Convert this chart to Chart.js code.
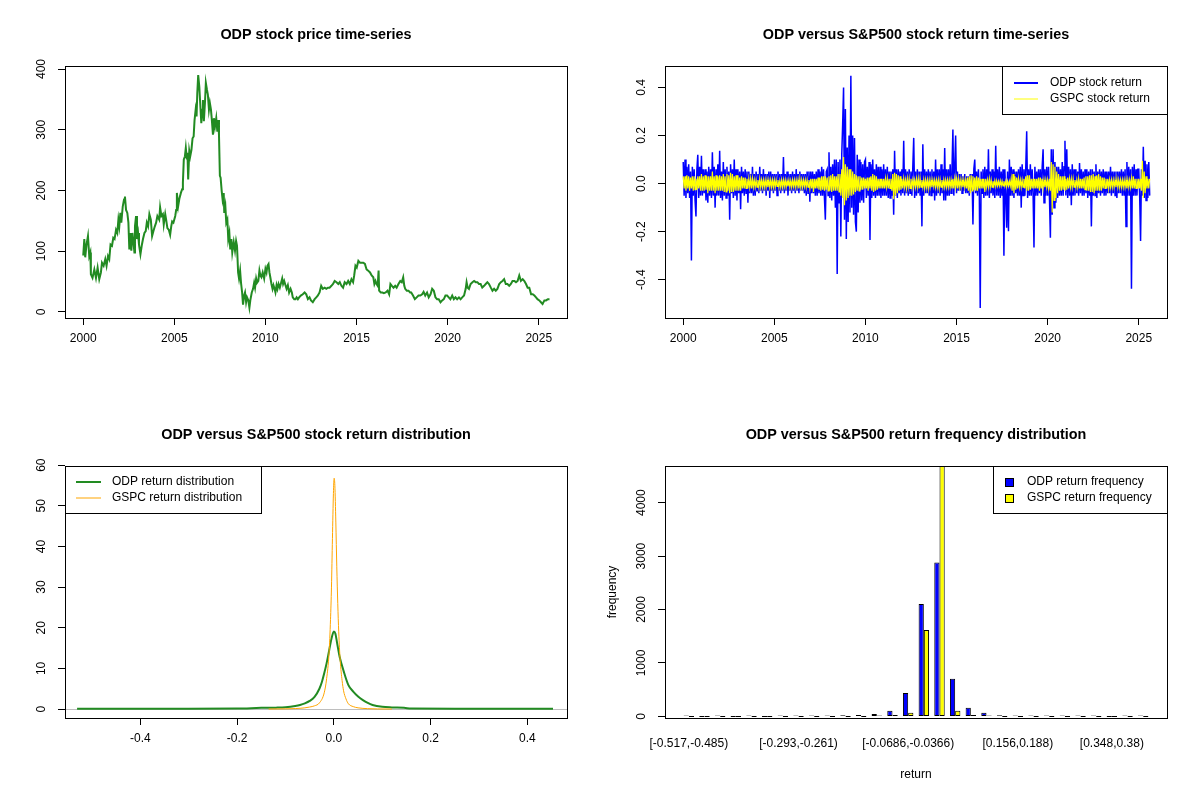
<!DOCTYPE html>
<html lang="en">
<head>
<meta charset="UTF-8">
<title>ODP versus S&amp;P500</title>
<script src="https://cdn.jsdelivr.net/npm/chart.js"></script>
<style>
  body { margin: 0; background: #fff; width: 1200px; height: 800px; overflow: hidden; }
  .panel { position: absolute; width: 600px; height: 400px; }
</style>
</head>
<body>
<div class="panel" style="left:0;top:0"><canvas id="pricePlot" width="600" height="400"></canvas></div>
<div class="panel" style="left:600px;top:0"><canvas id="returnPlot" width="600" height="400"></canvas></div>
<div class="panel" style="left:0;top:400px"><canvas id="densityPlot" width="600" height="400"></canvas></div>
<div class="panel" style="left:600px;top:400px"><canvas id="freqPlot" width="600" height="400"></canvas></div>

<script>
const FONT = '"Liberation Sans", Arial, sans-serif';

// ---- ODP price ----
const priceYears = [
  2000.00, 2000.06, 2000.11, 2000.18, 2000.26, 2000.33, 2000.39, 2000.42, 2000.51, 2000.61, 2000.70, 2000.79, 2000.88, 2000.97,
  2001.03, 2001.12, 2001.21, 2001.28, 2001.36, 2001.43, 2001.50, 2001.58, 2001.65, 2001.72, 2001.80, 2001.87, 2001.93, 2001.98,
  2002.04, 2002.09, 2002.17, 2002.24, 2002.29, 2002.35, 2002.42, 2002.48, 2002.53, 2002.59, 2002.64, 2002.70, 2002.75, 2002.81, 2002.84, 2002.90, 2002.95,
  2003.01, 2003.06, 2003.14, 2003.21, 2003.28, 2003.36, 2003.43, 2003.49, 2003.56, 2003.63, 2003.71, 2003.78, 2003.85, 2003.93,
  2004.00, 2004.07, 2004.17, 2004.22, 2004.29, 2004.37, 2004.42, 2004.50, 2004.55, 2004.62, 2004.70, 2004.77, 2004.83, 2004.88, 2004.95,
  2005.05, 2005.10, 2005.14, 2005.21, 2005.28, 2005.36, 2005.43, 2005.47, 2005.52, 2005.58, 2005.63, 2005.69, 2005.72, 2005.76, 2005.82, 2005.87, 2005.94,
  2006.00, 2006.06, 2006.11, 2006.17, 2006.22, 2006.26, 2006.31, 2006.37, 2006.42, 2006.48, 2006.53, 2006.57, 2006.62, 2006.68, 2006.73, 2006.79, 2006.84, 2006.90, 2006.95,
  2007.01, 2007.06, 2007.12, 2007.17, 2007.23, 2007.30, 2007.36, 2007.41, 2007.45, 2007.50, 2007.54, 2007.60, 2007.65, 2007.71, 2007.74, 2007.80, 2007.85, 2007.91, 2007.96,
  2008.02, 2008.07, 2008.13, 2008.18, 2008.26, 2008.33, 2008.39, 2008.44, 2008.50, 2008.55, 2008.61, 2008.66, 2008.72, 2008.77, 2008.83, 2008.88, 2008.94, 2008.99,
  2009.06, 2009.12, 2009.17, 2009.25, 2009.32, 2009.38, 2009.43, 2009.49, 2009.54, 2009.61, 2009.67, 2009.72, 2009.78, 2009.85, 2009.93,
  2010.00, 2010.06, 2010.11, 2010.17, 2010.22, 2010.28, 2010.33, 2010.39, 2010.44, 2010.50, 2010.55, 2010.61, 2010.66, 2010.72, 2010.79, 2010.86, 2010.92, 2010.97,
  2011.03, 2011.08, 2011.16, 2011.23, 2011.30, 2011.38, 2011.45, 2011.50, 2011.58, 2011.65, 2011.71, 2011.78, 2011.85, 2011.94,
  2012.05, 2012.15, 2012.24, 2012.33, 2012.42, 2012.50, 2012.60, 2012.70, 2012.79, 2012.88, 2012.97,
  2013.06, 2013.15, 2013.25, 2013.34, 2013.43, 2013.52, 2013.62, 2013.71, 2013.80, 2013.90,
  2014.00, 2014.08, 2014.17, 2014.26, 2014.35, 2014.45, 2014.54, 2014.63, 2014.72, 2014.81, 2014.87, 2014.94,
  2015.01, 2015.10, 2015.19, 2015.28, 2015.37, 2015.46, 2015.55, 2015.64, 2015.74, 2015.83, 2015.92, 2015.98,
  2016.04, 2016.10, 2016.16, 2016.21, 2016.24, 2016.33, 2016.42, 2016.50, 2016.60, 2016.70, 2016.79, 2016.86, 2016.94,
  2017.03, 2017.12, 2017.20, 2017.30, 2017.40, 2017.48, 2017.56, 2017.62, 2017.67, 2017.76, 2017.85, 2017.94,
  2018.00, 2018.10, 2018.20, 2018.30, 2018.40, 2018.50, 2018.60, 2018.68, 2018.77, 2018.87, 2018.96,
  2019.06, 2019.15, 2019.24, 2019.33, 2019.42, 2019.51, 2019.61, 2019.70, 2019.79, 2019.88, 2019.97,
  2020.06, 2020.15, 2020.25, 2020.34, 2020.43, 2020.52, 2020.62, 2020.71, 2020.80, 2020.90, 2020.99,
  2021.04, 2021.10, 2021.17, 2021.26, 2021.36, 2021.45, 2021.54, 2021.63, 2021.72, 2021.81, 2021.90,
  2022.00, 2022.09, 2022.18, 2022.27, 2022.37, 2022.46, 2022.55, 2022.64, 2022.73, 2022.83, 2022.92,
  2023.01, 2023.10, 2023.19, 2023.28, 2023.38, 2023.47, 2023.56, 2023.66, 2023.75, 2023.84, 2023.93,
  2024.02, 2024.12, 2024.21, 2024.30, 2024.39, 2024.48, 2024.58, 2024.67, 2024.76, 2024.85, 2024.93,
  2025.03, 2025.12, 2025.21, 2025.31, 2025.40, 2025.50, 2025.59
];
const priceValues = [
  93, 120, 90, 111, 125, 92, 98, 62, 56, 70, 56, 73, 54, 65,
  81, 76, 87, 76, 92, 87, 111, 109, 122, 120, 135, 130, 152, 141,
  163, 147, 174, 185, 190, 168, 163, 147, 103, 130, 101, 130, 117, 98, 141, 158, 120,
  130, 111, 95, 109, 120, 130, 133, 147, 141, 161, 152, 125, 133, 141,
  147, 158, 152, 172, 158, 161, 144, 161, 152, 138, 135, 127, 141, 149, 147,
  158, 168, 196, 174, 187, 196, 202, 213, 251, 256, 270, 251, 262, 218, 265, 256, 267,
  286, 289, 316, 333, 322, 360, 390, 371, 344, 311, 333, 349, 314, 344, 377, 366, 358, 333, 344,
  333, 316, 292, 319, 305, 319, 297, 316, 292, 224, 221, 199, 185, 196, 163, 174, 147, 152, 120,
  130, 103, 120, 98, 115, 101, 117, 109, 65, 55, 68, 48, 32, 12, 27, 32, 16, 24,
  19, 7, 19, 32, 38, 48, 40, 55, 48, 51, 68, 60, 57, 65, 55,
  71, 65, 76, 79, 65, 55, 46, 38, 44, 38, 32, 44, 38, 46, 40, 48, 55, 46,
  51, 46, 38, 44, 32, 38, 32, 24, 21, 21, 24, 21, 24, 27,
  29, 32, 29, 21, 24, 19, 16, 21, 24, 27, 32,
  43, 38, 40, 38, 40, 40, 43, 46, 51, 49,
  46, 49, 43, 40, 49, 46, 51, 46, 54, 49, 60, 76,
  73, 84, 81, 81, 81, 79, 70, 68, 65, 60, 57, 46,
  51, 46, 43, 68, 35, 32, 32, 31, 32, 35, 29, 46, 43,
  40, 43, 40, 46, 51, 49, 57, 43, 38, 35, 35, 32,
  32, 27, 21, 24, 27, 27, 29, 33, 27, 32, 24,
  29, 38, 35, 24, 21, 21, 16, 19, 21, 27, 27,
  24, 21, 27, 21, 24, 21, 24, 21, 24, 27, 38,
  49, 40, 38, 46, 49, 51, 49, 49, 46, 46, 40,
  43, 46, 49, 46, 40, 35, 38, 35, 38, 46, 49,
  51, 54, 46, 46, 43, 46, 51, 51, 49, 51, 60,
  51, 54, 51, 46, 40, 40, 29, 29, 27, 24, 21,
  19, 16, 13, 19, 19, 21, 21
];

const odpReturn = [
  0.09, -0.05, 0.10, -0.06, 0.07, -0.04, 0.08, -0.06, 0.05, -0.32, 0.07, -0.05, 0.06, -0.07, -0.137, 0.06, 0.12, -0.06, 0.07, -0.05,
  0.116, -0.05, 0.06, -0.04, 0.06, -0.07, 0.05, -0.08, 0.07, -0.05, 0.06, -0.06, 0.13, -0.05, 0.07, -0.10, 0.06, -0.05, 0.08, -0.05,
  0.137, -0.06, 0.05, -0.07, 0.09, -0.05, 0.06, -0.06, 0.07, -0.05, 0.05, -0.15, 0.08, -0.04, 0.06, -0.06, 0.10, -0.05, 0.06, -0.07,
  0.06, -0.04, 0.05, -0.107, 0.07, -0.04, 0.05, -0.05, 0.06, -0.04, 0.05, -0.08, 0.05, -0.04, 0.04, -0.04, 0.07, -0.05, 0.04, -0.05,
  0.05, -0.03, 0.04, -0.04, 0.07, -0.03, 0.04, -0.04, 0.06, -0.03, 0.04, -0.05, 0.04, -0.03, 0.05, -0.06, 0.05, -0.03, 0.04, -0.04,
  0.04, -0.03, 0.04, -0.05, 0.05, -0.03, 0.04, -0.04, 0.04, -0.03, 0.11, -0.04, 0.04, -0.03, 0.05, -0.05, 0.04, -0.03, 0.04, -0.04,
  0.05, -0.03, 0.04, -0.04, 0.06, -0.03, 0.04, -0.04, 0.05, -0.03, 0.04, -0.03, 0.04, -0.04, 0.04, -0.05, 0.05, -0.04, 0.05, -0.075,
  0.05, -0.04, 0.05, -0.04, 0.04, -0.05, 0.05, -0.05, 0.06, -0.04, 0.05, -0.05, 0.07, -0.05, 0.06, -0.06, -0.15, 0.05, 0.06, -0.05,
  0.13, -0.06, 0.07, -0.07, 0.08, -0.05, 0.10, -0.10, 0.10, -0.376, 0.09, -0.08, 0.10, -0.22, 0.12, 0.246, 0.40, -0.15, 0.31, -0.23,
  0.15, -0.16, 0.20, -0.12, 0.448, -0.10, 0.20, -0.13, 0.19, -0.16, -0.20, 0.12, -0.12, 0.10, -0.08, 0.09, -0.07, 0.08, -0.08, 0.09,
  0.10, -0.06, 0.07, -0.05, 0.09, -0.235, 0.08, -0.06, 0.10, -0.05, 0.06, -0.06, 0.08, -0.05, 0.07, -0.05, 0.07, -0.06, 0.06, -0.05,
  0.08, -0.05, 0.06, -0.05, 0.07, -0.06, 0.05, -0.06, 0.05, -0.05, 0.06, -0.13, 0.137, -0.05, 0.06, -0.06, 0.06, -0.04, 0.05, -0.05,
  0.06, -0.04, 0.178, -0.05, 0.06, -0.04, 0.05, -0.05, 0.06, -0.04, 0.05, -0.05, 0.07, 0.19, -0.06, 0.05, -0.05, 0.06, -0.04, 0.05,
  -0.05, 0.05, -0.178, 0.164, -0.05, 0.06, -0.04, 0.05, -0.04, 0.06, -0.05, 0.05, -0.05, 0.06, -0.04, 0.05, -0.07, 0.10, -0.05, 0.06,
  -0.04, 0.06, -0.05, 0.08, -0.04, 0.06, -0.07, 0.148, -0.07, 0.06, -0.05, 0.06, -0.05, 0.08, -0.04, 0.06, 0.225, -0.05, 0.07, 0.20,
  -0.04, 0.05, -0.03, 0.04, -0.03, 0.04, -0.04, 0.03, -0.03, 0.04, -0.04, 0.03, -0.04, 0.03, -0.05, 0.04, -0.03, 0.04, -0.17, 0.06,
  0.10, -0.04, 0.05, -0.05, 0.06, -0.04, -0.517, 0.05, -0.04, 0.06, -0.06, 0.07, -0.05, 0.06, -0.05, 0.143, -0.06, 0.05, -0.04, 0.06,
  -0.05, 0.05, -0.06, 0.157, -0.05, 0.06, -0.05, 0.07, -0.06, 0.05, -0.05, 0.06, -0.30, 0.06, -0.05, -0.184, 0.05, -0.198, 0.10, -0.05,
  0.07, -0.05, 0.06, -0.06, 0.05, -0.04, 0.05, -0.05, 0.06, -0.05, 0.07, -0.10, 0.08, -0.05, 0.06, -0.05, 0.07, 0.218, -0.06, 0.06,
  -0.05, 0.08, -0.05, 0.06, -0.04, -0.266, 0.07, -0.05, 0.05, -0.05, 0.06, -0.04, 0.06, -0.05, 0.07, 0.143, -0.08, 0.06, -0.05, 0.07,
  -0.05, 0.07, -0.06, -0.225, 0.143, -0.13, 0.143, -0.10, 0.09, -0.08, 0.07, -0.06, 0.07, -0.05, 0.06, -0.05, 0.09, -0.05, 0.07, 0.178,
  -0.05, 0.143, -0.06, 0.07, -0.05, 0.06, -0.09, 0.08, -0.05, 0.06, -0.05, 0.06, -0.04, 0.05, -0.05, 0.085, -0.04, 0.06, -0.05, 0.05,
  -0.05, 0.06, -0.04, 0.06, -0.06, 0.05, -0.05, 0.06, -0.178, 0.06, -0.05, 0.05, -0.05, 0.08, -0.06, 0.05, -0.04, 0.06, -0.05, 0.05,
  -0.04, 0.06, -0.05, 0.05, -0.05, 0.05, -0.04, 0.05, -0.04, 0.07, -0.05, 0.05, -0.04, 0.05, -0.05, 0.05, -0.06, 0.05, -0.04, 0.05,
  -0.04, 0.06, -0.05, 0.05, -0.05, 0.06, -0.178, 0.09, -0.05, 0.07, -0.05, 0.06, -0.437, 0.07, -0.05, 0.08, -0.05, 0.06, -0.05, 0.06,
  0.06, -0.05, -0.239, 0.06, -0.05, 0.153, -0.06, 0.095, -0.07, 0.08, -0.06, 0.09, -0.05
];
const gspcReturn = [
  0.03, -0.02, 0.03, -0.03, 0.035, -0.02, 0.03, -0.03, 0.025, -0.02, 0.03, -0.03, 0.03, -0.025, 0.02, -0.025, 0.03, -0.02, 0.03, -0.03,
  0.04, -0.03, 0.03, -0.03, 0.035, -0.025, 0.03, -0.04, 0.03, -0.03, 0.03, -0.03, 0.05, -0.03, 0.03, -0.04, 0.035, -0.03, 0.03, -0.03,
  0.035, -0.03, 0.03, -0.03, 0.04, -0.035, 0.03, -0.035, 0.04, -0.03, 0.035, -0.04, 0.045, -0.035, 0.04, -0.035, 0.03, -0.03, 0.035, -0.03,
  0.035, -0.03, 0.025, -0.03, 0.03, -0.02, 0.025, -0.02, 0.025, -0.02, 0.02, -0.02, 0.02, -0.015, 0.02, -0.02, 0.02, -0.015, 0.015, -0.015,
  0.015, -0.015, 0.015, -0.015, 0.02, -0.015, 0.015, -0.015, 0.015, -0.015, 0.015, -0.015, 0.015, -0.015, 0.015, -0.015, 0.015, -0.015, 0.015, -0.015,
  0.015, -0.015, 0.015, -0.012, 0.015, -0.015, 0.012, -0.015, 0.015, -0.015, 0.015, -0.012, 0.015, -0.015, 0.012, -0.012, 0.015, -0.015, 0.012, -0.015,
  0.015, -0.012, 0.015, -0.015, 0.015, -0.012, 0.015, -0.02, 0.02, -0.015, 0.015, -0.015, 0.015, -0.012, 0.015, -0.015, 0.015, -0.015, 0.015, -0.02,
  0.02, -0.02, 0.02, -0.035, 0.02, -0.02, 0.02, -0.02, 0.025, -0.025, 0.025, -0.03, 0.03, -0.025, 0.03, -0.03, 0.03, -0.025, 0.025, -0.03,
  0.03, -0.03, 0.035, -0.035, 0.04, -0.03, 0.03, -0.03, 0.03, -0.03, 0.04, -0.035, 0.04, -0.05, 0.06, -0.06, 0.11, -0.09, 0.08, -0.07,
  0.07, -0.06, 0.06, -0.05, 0.06, -0.05, 0.05, -0.045, 0.04, -0.035, 0.035, -0.03, 0.03, -0.03, 0.03, -0.025, 0.025, -0.025, 0.025, -0.02,
  0.02, -0.02, 0.025, -0.03, 0.025, -0.02, 0.03, -0.03, 0.04, -0.035, 0.035, -0.03, 0.03, -0.025, 0.02, -0.02, 0.02, -0.02, 0.02, -0.02,
  0.02, -0.02, 0.02, -0.015, 0.02, -0.02, 0.02, -0.02, 0.02, -0.03, 0.04, -0.065, 0.045, -0.05, 0.04, -0.04, 0.035, -0.03, 0.03, -0.025,
  0.02, -0.02, 0.02, -0.015, 0.015, -0.02, 0.02, -0.015, 0.02, -0.02, 0.02, -0.015, 0.015, -0.015, 0.015, -0.015, 0.02, -0.015, 0.02, -0.02,
  0.02, -0.015, 0.015, -0.015, 0.015, -0.02, 0.015, -0.015, 0.015, -0.02, 0.015, -0.015, 0.015, -0.015, 0.015, -0.012, 0.015, -0.015, 0.015, -0.015,
  0.015, -0.02, 0.015, -0.015, 0.015, -0.015, 0.015, -0.015, 0.015, -0.015, 0.015, -0.015, 0.015, -0.015, 0.015, -0.02, 0.02, -0.02, 0.02, -0.015,
  0.02, -0.02, 0.02, -0.015, 0.015, -0.015, 0.015, -0.015, 0.015, -0.015, 0.015, -0.02, 0.025, -0.03, 0.03, -0.04, 0.035, -0.03, 0.03, -0.025,
  0.025, -0.03, 0.03, -0.03, 0.025, -0.02, 0.02, -0.02, 0.02, -0.02, 0.02, -0.035, 0.02, -0.015, 0.015, -0.015, 0.02, -0.015, 0.015, -0.015,
  0.01, -0.01, 0.012, -0.012, 0.012, -0.01, 0.01, -0.01, 0.012, -0.01, 0.01, -0.01, 0.01, -0.01, 0.01, -0.012, 0.01, -0.01, 0.01, -0.01,
  0.02, -0.03, 0.04, -0.04, 0.03, -0.025, 0.025, -0.02, 0.02, -0.015, 0.015, -0.015, 0.015, -0.015, 0.02, -0.02, 0.03, -0.03, 0.035, -0.03,
  0.035, -0.025, 0.02, -0.02, 0.02, -0.02, 0.02, -0.02, 0.02, -0.02, 0.025, -0.03, 0.025, -0.02, 0.02, -0.02, 0.015, -0.015, 0.015, -0.015,
  0.015, -0.02, 0.02, -0.03, 0.09, -0.12, 0.08, -0.07, 0.07, -0.06, 0.05, -0.04, 0.04, -0.03, 0.03, -0.03, 0.03, -0.025, 0.03, -0.03,
  0.02, -0.025, 0.025, -0.02, 0.02, -0.015, 0.02, -0.015, 0.02, -0.015, 0.015, -0.015, 0.015, -0.015, 0.02, -0.02, 0.02, -0.02, 0.02, -0.02,
  0.025, -0.025, 0.03, -0.03, 0.03, -0.03, 0.035, -0.035, 0.035, -0.035, 0.04, -0.04, 0.03, -0.03, 0.035, -0.03, 0.04, -0.03, 0.03, -0.03,
  0.025, -0.02, 0.025, -0.02, 0.02, -0.02, 0.02, -0.02, 0.015, -0.015, 0.015, -0.015, 0.015, -0.015, 0.015, -0.015, 0.02, -0.015, 0.015, -0.015,
  0.015, -0.015, 0.015, -0.015, 0.015, -0.015, 0.015, -0.02, 0.015, -0.015, 0.015, -0.015, 0.02, -0.02, 0.03, -0.02, 0.02, -0.02, 0.02, -0.02,
  0.02, -0.02, 0.02, -0.03, 0.095, -0.06, 0.05, -0.04, 0.03, -0.02, 0.02, -0.02, 0.02
];
const returnStart = 2000;
const returnStep = 0.05;

// ---- kernel density of returns ----
const odpDensX = [-0.531, -0.40, -0.30, -0.20, -0.15, -0.12, -0.10, -0.08, -0.07, -0.06, -0.05, -0.04, -0.03, -0.025, -0.02, -0.015, -0.01, -0.005, 0.0, 0.003, 0.007, 0.012, 0.02, 0.03, 0.04, 0.05, 0.06, 0.07, 0.08, 0.10, 0.12, 0.145, 0.16, 0.25, 0.35, 0.453];
const odpDensY = [0.1, 0.1, 0.1, 0.12, 0.3, 0.35, 0.45, 0.75, 1.0, 1.4, 2.0, 3.0, 5.0, 6.6, 8.8, 11.3, 14.3, 17.3, 19.1, 18.6, 16.0, 12.8, 9.4, 5.9, 4.3, 3.1, 2.2, 1.5, 1.0, 0.55, 0.4, 0.3, 0.12, 0.1, 0.1, 0.1];
const gspcDensX = [-0.135, -0.10, -0.08, -0.06, -0.05, -0.04, -0.03, -0.02, -0.015, -0.01, -0.007, -0.005, -0.003, -0.001, 0.0005, 0.002, 0.004, 0.006, 0.008, 0.01, 0.013, 0.017, 0.02, 0.025, 0.03, 0.04, 0.05, 0.07, 0.09, 0.12];
const gspcDensY = [0.01, 0.05, 0.12, 0.3, 0.5, 0.8, 1.5, 4.0, 7.5, 13.8, 22, 30, 42, 53, 56.8, 55, 46, 35, 26, 19, 12, 7, 4.5, 2.5, 1.3, 0.6, 0.3, 0.1, 0.03, 0.01];

// ---- return frequency per bin ----
const freqBins = [
  '[-0.517,-0.485)', '[-0.485,-0.453)', '[-0.453,-0.421)', '[-0.421,-0.389)', '[-0.389,-0.357)',
  '[-0.357,-0.325)', '[-0.325,-0.293)', '[-0.293,-0.261)', '[-0.261,-0.229)', '[-0.229,-0.197)',
  '[-0.197,-0.165)', '[-0.165,-0.133)', '[-0.133,-0.101)', '[-0.101,-0.0686)', '[-0.0686,-0.0366)',
  '[-0.0366,-0.0045)', '[-0.0045,0.0276)', '[0.0276,0.0596)', '[0.0596,0.0917)', '[0.0917,0.124)',
  '[0.124,0.156)', '[0.156,0.188)', '[0.188,0.22)', '[0.22,0.252)', '[0.252,0.284)',
  '[0.284,0.316)', '[0.316,0.348)', '[0.348,0.38)', '[0.38,0.412)', '[0.412,0.444)'
];
const shownBins = [0, 7, 14, 21, 27];
const odpFreq  = [1, 0, 1, 0, 1, 0, 2, 3, 5, 9, 20, 25, 45, 106, 440, 2104, 2882, 703, 164, 68, 22, 15, 10, 3, 2, 1, 1, 0, 1, 1];
const gspcFreq = [0, 0, 0, 0, 0, 0, 0, 0, 0, 0, 0, 0, 3, 25, 68, 1617, 4686, 106, 25, 2, 0, 0, 0, 0, 0, 0, 0, 0, 0, 0];

// tick labels
const yearTicks = [2000, 2005, 2010, 2015, 2020, 2025];
const priceTicks = [0, 100, 200, 300, 400];
const returnTicks = [-0.4, -0.2, 0, 0.2, 0.4];
const returnTickLabels = ['-0.4', '-0.2', '0.0', '0.2', '0.4'];
const densTicks = [0, 10, 20, 30, 40, 50, 60];
const freqTicks = [0, 1000, 2000, 3000, 4000];

// R-like frame: box, title, rotated y labels, legend
const rStyle = {
  id: 'rstyle',
  beforeDatasetsDraw(chart, args, opts) {
    if (!opts.zeroLine) return;
    const { ctx, chartArea: a, scales } = chart;
    const y = Math.round(scales.y.getPixelForValue(0)) + 0.5;
    ctx.save();
    ctx.strokeStyle = '#BEBEBE';
    ctx.lineWidth = 1;
    ctx.beginPath();
    ctx.moveTo(a.left, y);
    ctx.lineTo(a.right, y);
    ctx.stroke();
    ctx.restore();
  },
  afterDraw(chart, args, opts) {
    const { ctx, chartArea: a, scales } = chart;
    ctx.save();
    ctx.strokeStyle = '#000';
    ctx.lineWidth = 1;
    ctx.strokeRect(Math.round(a.left) + 0.5, Math.round(a.top) + 0.5,
      Math.round(a.right - a.left), Math.round(a.bottom - a.top));

    ctx.fillStyle = '#000';
    ctx.textAlign = 'center';
    ctx.textBaseline = 'middle';
    ctx.font = 'bold 14.4px ' + FONT;
    ctx.fillText(opts.title, (a.left + a.right) / 2, 35);

    ctx.font = '12px ' + FONT;
    const ys = scales.y;
    ys.ticks.forEach((t, i) => {
      ctx.save();
      ctx.translate(a.left - 23, ys.getPixelForValue(t.value));
      ctx.rotate(-Math.PI / 2);
      ctx.fillText(opts.yLabels[i], 0, 0);
      ctx.restore();
    });

    const lg = opts.legend;
    if (lg) {
      ctx.strokeRect(lg.box[0] + 0.5, lg.box[1] + 0.5, lg.box[2], lg.box[3]);
      ctx.textAlign = 'left';
      lg.rows.forEach(r => {
        if (r.kind === 'line') {
          ctx.strokeStyle = r.color;
          ctx.lineWidth = r.lw;
          ctx.beginPath();
          ctx.moveTo(lg.sym[0], r.y);
          ctx.lineTo(lg.sym[1], r.y);
          ctx.stroke();
        } else {
          ctx.fillStyle = r.color;
          ctx.fillRect(lg.sym[0], r.y - 4, lg.sym[1] - lg.sym[0], 9);
          ctx.strokeStyle = '#000';
          ctx.lineWidth = 1;
          ctx.strokeRect(lg.sym[0] + 0.5, r.y - 3.5, lg.sym[1] - lg.sym[0] - 1, 8);
        }
        ctx.fillStyle = '#000';
        ctx.fillText(r.text, lg.textX, r.y);
      });
    }
    ctx.restore();
  }
};
Chart.register(rStyle);

function makeScales(o) {
  return {
    x: {
      type: 'linear', min: o.xMin, max: o.xMax, offset: false,
      afterBuildTicks: s => { s.ticks = o.xTicks.map(v => ({ value: v })); },
      afterFit: s => { s.height = 82; },
      border: { display: false },
      grid: { display: o.xMarks, offset: false, drawOnChartArea: false, drawTicks: o.xMarks, tickLength: 7, color: '#000' },
      ticks: {
        callback: (v, i) => o.xLabels[i], color: '#000', font: { family: FONT, size: 12 },
        maxRotation: 0, minRotation: 0, autoSkip: false, padding: o.xPad
      },
      title: o.xTitle ? { display: true, text: o.xTitle, color: '#000', font: { family: FONT, size: 12 }, padding: { top: 0, bottom: 18 } } : { display: false }
    },
    y: {
      type: 'linear', min: o.yMin, max: o.yMax,
      afterBuildTicks: s => { s.ticks = o.yTicks.map(v => ({ value: v })); },
      afterFit: s => { s.width = 65; },
      border: { display: false },
      grid: { drawOnChartArea: false, drawTicks: true, tickLength: 7, color: '#000' },
      ticks: { display: false },
      title: o.yTitle ? { display: true, text: o.yTitle, color: '#000', font: { family: FONT, size: 12 }, padding: { top: 5, bottom: 0 } } : { display: false }
    }
  };
}

function baseOptions(scales, rstyle) {
  return {
    responsive: false,
    animation: false,
    events: [],
    layout: { padding: { top: 66, right: 33, left: 0, bottom: 0 } },
    scales: scales,
    plugins: { legend: { display: false }, tooltip: { enabled: false }, rstyle: rstyle }
  };
}

// 1. price
new Chart(document.getElementById('pricePlot'), {
  type: 'line',
  data: {
    datasets: [{
      data: priceYears.map((t, i) => ({ x: t, y: priceValues[i] })),
      borderColor: '#228B22', borderWidth: 2, pointRadius: 0, tension: 0
    }]
  },
  options: baseOptions(
    makeScales({ xMin: 1999.0, xMax: 2026.55, xTicks: yearTicks, xLabels: yearTicks.map(String), xMarks: true, xPad: 6,
                 yMin: -10, yMax: 405, yTicks: priceTicks }),
    { title: 'ODP stock price time-series', yLabels: priceTicks.map(String) })
});

// 2. returns
new Chart(document.getElementById('returnPlot'), {
  type: 'line',
  data: {
    datasets: [
      { label: 'ODP stock return', order: 2,
        data: odpReturn.map((v, i) => ({ x: returnStart + i * returnStep, y: v })),
        borderColor: '#0000FF', borderWidth: 1.5, pointRadius: 0, tension: 0 },
      { label: 'GSPC stock return', order: 1,
        data: gspcReturn.map((v, i) => ({ x: returnStart + i * returnStep, y: v })),
        borderColor: '#FFFF00', borderWidth: 1.2, pointRadius: 0, tension: 0 }
    ]
  },
  options: baseOptions(
    makeScales({ xMin: 1999.0, xMax: 2026.55, xTicks: yearTicks, xLabels: yearTicks.map(String), xMarks: true, xPad: 6,
                 yMin: -0.559, yMax: 0.489, yTicks: returnTicks }),
    { title: 'ODP versus S&P500 stock return time-series', yLabels: returnTickLabels,
      legend: { box: [402, 66, 165, 48], sym: [414, 438], textX: 450,
        rows: [ { y: 83, kind: 'line', color: '#0000FF', lw: 2, text: 'ODP stock return' },
                { y: 99, kind: 'line', color: '#FFFF00', lw: 1, text: 'GSPC stock return' } ] } })
});

// 3. density
new Chart(document.getElementById('densityPlot'), {
  type: 'line',
  data: {
    datasets: [
      { label: 'ODP return distribution', order: 2,
        data: odpDensX.map((x, i) => ({ x: x, y: odpDensY[i] })),
        borderColor: '#228B22', borderWidth: 2, pointRadius: 0, cubicInterpolationMode: 'monotone' },
      { label: 'GSPC return distribution', order: 1,
        data: gspcDensX.map((x, i) => ({ x: x, y: gspcDensY[i] })),
        borderColor: '#FFA500', borderWidth: 1, pointRadius: 0, cubicInterpolationMode: 'monotone' }
    ]
  },
  options: baseOptions(
    makeScales({ xMin: -0.556, xMax: 0.482, xTicks: returnTicks, xLabels: returnTickLabels, xMarks: true, xPad: 6,
                 yMin: -2.2, yMax: 59.8, yTicks: densTicks }),
    { title: 'ODP versus S&P500 stock return distribution', yLabels: densTicks.map(String), zeroLine: true,
      legend: { box: [65, 66, 196, 47], sym: [76, 101], textX: 112,
        rows: [ { y: 82, kind: 'line', color: '#228B22', lw: 2, text: 'ODP return distribution' },
                { y: 98, kind: 'line', color: '#FFA500', lw: 1, text: 'GSPC return distribution' } ] } })
});

// 4. frequency bars (R barplot layout: each group = 1 space + 2 bars)
const groupCentre = i => 3 * i + 2;
new Chart(document.getElementById('freqPlot'), {
  type: 'bar',
  data: {
    datasets: [
      { label: 'ODP return frequency', data: odpFreq.map((v, i) => ({ x: groupCentre(i), y: v })),
        backgroundColor: '#0000FF', borderColor: '#000', borderWidth: 1, borderSkipped: false, minBarLength: 1 },
      { label: 'GSPC return frequency', data: gspcFreq.map((v, i) => ({ x: groupCentre(i), y: v })),
        backgroundColor: '#FFFF00', borderColor: '#000', borderWidth: 1, borderSkipped: false, minBarLength: 1 }
    ]
  },
  options: Object.assign(baseOptions(
    makeScales({ xMin: -2.56, xMax: 93.56, xTicks: shownBins.map(groupCentre), xLabels: shownBins.map(i => freqBins[i]),
                 xMarks: false, xPad: 18, xTitle: 'return',
                 yMin: -30, yMax: 4686, yTicks: freqTicks, yTitle: 'frequency' }),
    { title: 'ODP versus S&P500 return frequency distribution', yLabels: freqTicks.map(String),
      legend: { box: [393, 66, 174, 47], sym: [405, 414], textX: 427,
        rows: [ { y: 82, kind: 'box', color: '#0000FF', text: 'ODP return frequency' },
                { y: 98, kind: 'box', color: '#FFFF00', text: 'GSPC return frequency' } ] } }),
    { datasets: { bar: { categoryPercentage: 2 / 3, barPercentage: 1 } } })
});
</script>
</body>
</html>
